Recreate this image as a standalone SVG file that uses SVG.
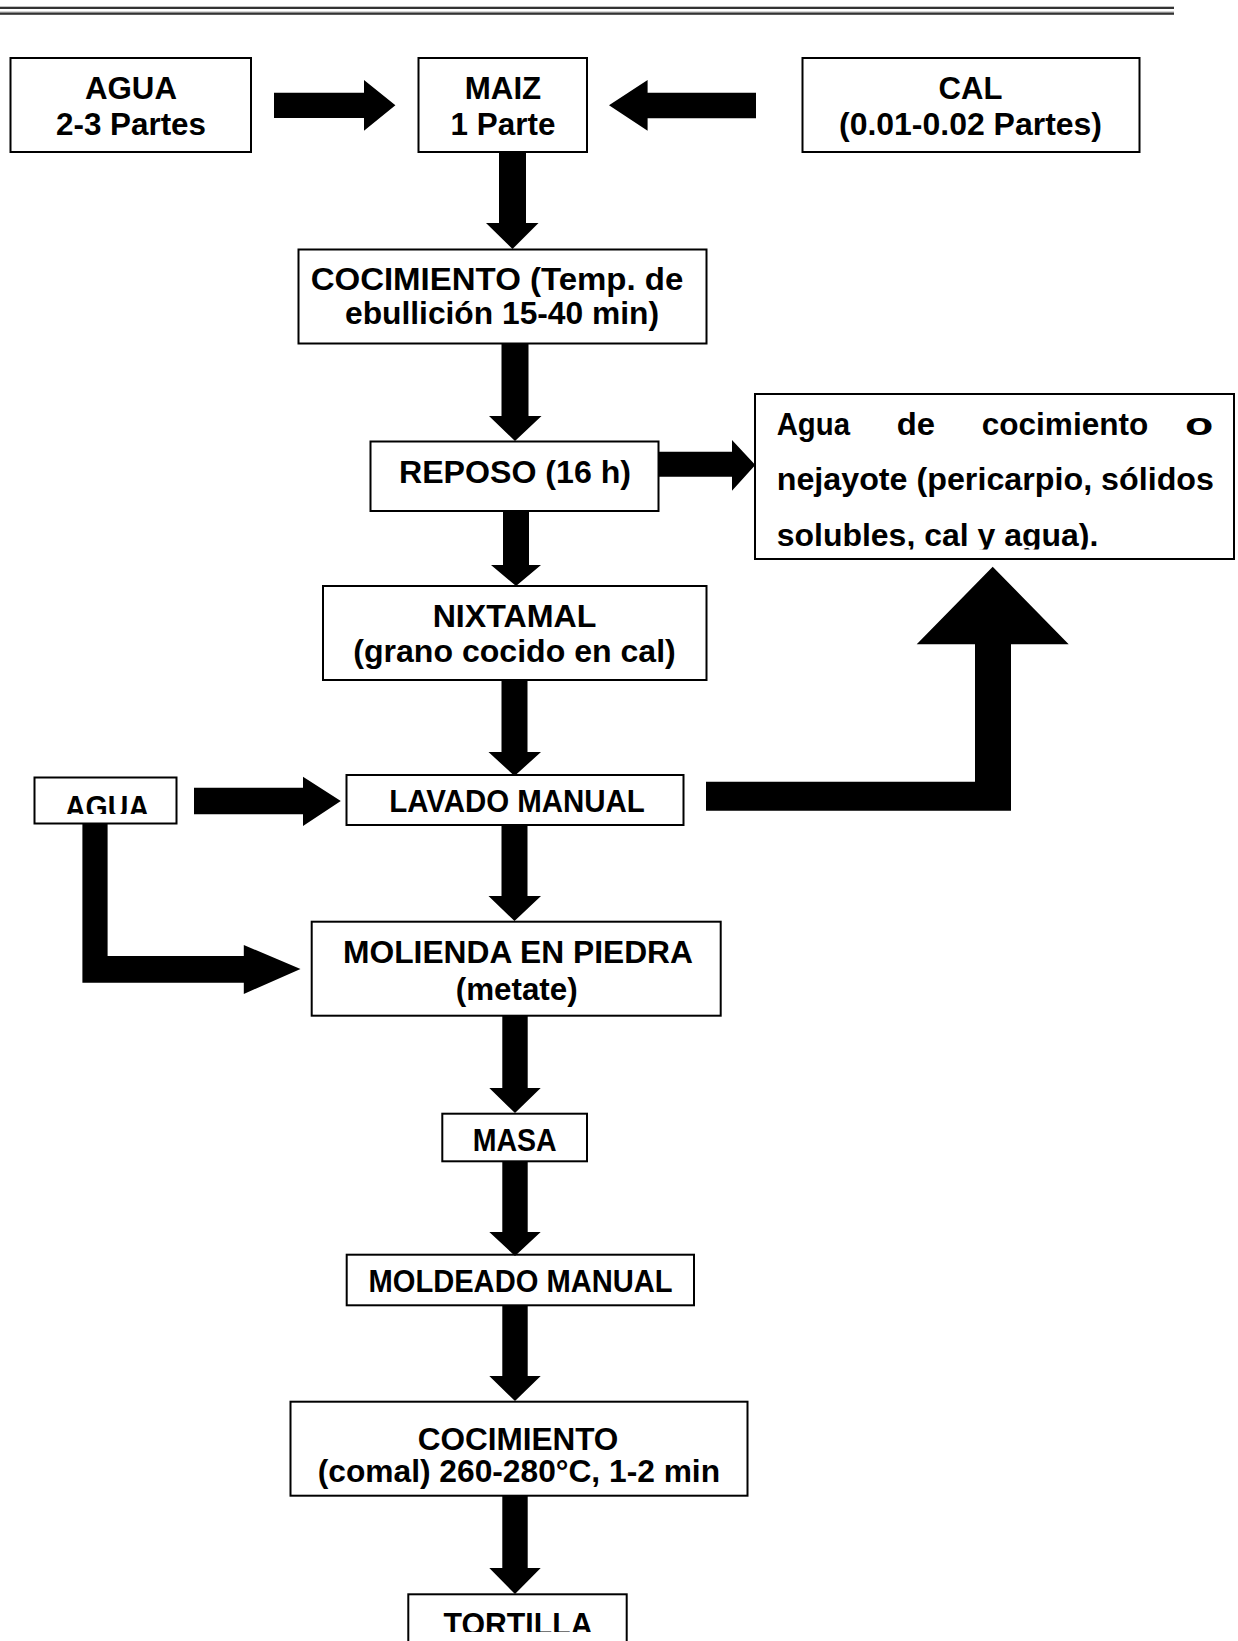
<svg xmlns="http://www.w3.org/2000/svg" width="1238" height="1641" viewBox="0 0 1238 1641">
<style>
.box{fill:#fff;stroke:#000;stroke-width:2}
.t{font-family:"Liberation Sans",Arial,sans-serif;font-weight:bold;font-size:31px;fill:#000}
.big{font-size:32px}
.m{text-anchor:middle}
.arrow{fill:#000;stroke:none}
</style>
<defs>
<clipPath id="clipAgua3"><rect x="0" y="770" width="300" height="44"/></clipPath>
<clipPath id="clipNej"><rect x="740" y="380" width="498" height="169.5"/></clipPath>
<clipPath id="clipTort"><rect x="400" y="1580" width="240" height="52"/></clipPath>
</defs>
<rect width="1238" height="1641" fill="#fff"/>
<g id="header">
<rect x="0" y="6.7" width="1174" height="2.3" fill="#333"/>
<rect x="0" y="11.6" width="1174" height="1" fill="#999"/>
<rect x="0" y="12.6" width="1174" height="2.2" fill="#333"/>
</g>
<g id="n-agua1">
<rect class="box" x="10.5" y="58" width="240.5" height="94"/>
<text class="t big m" x="131" y="99" textLength="92" lengthAdjust="spacingAndGlyphs">AGUA</text>
<text class="t big m" x="131" y="135" textLength="150" lengthAdjust="spacingAndGlyphs">2-3 Partes</text>
</g>
<g id="n-maiz">
<rect class="box" x="418.5" y="58" width="168.5" height="94"/>
<text class="t big m" x="503" y="99" textLength="76.4" lengthAdjust="spacingAndGlyphs">MAIZ</text>
<text class="t big m" x="503" y="135" textLength="104.8" lengthAdjust="spacingAndGlyphs">1 Parte</text>
</g>
<g id="n-cal">
<rect class="box" x="802.5" y="58" width="337" height="94"/>
<text class="t big m" x="970.5" y="99" textLength="63.8" lengthAdjust="spacingAndGlyphs">CAL</text>
<text class="t big m" x="970.5" y="135" textLength="263" lengthAdjust="spacingAndGlyphs">(0.01-0.02 Partes)</text>
</g>
<g id="n-cocimiento1">
<rect class="box" x="298.5" y="249.5" width="408" height="94"/>
<text class="t m" x="497" y="289.5" textLength="372.7" lengthAdjust="spacingAndGlyphs">COCIMIENTO (Temp. de</text>
<text class="t m" x="502" y="324" textLength="314" lengthAdjust="spacingAndGlyphs">ebullición 15-40 min)</text>
</g>
<g id="n-reposo">
<rect class="box" x="370.5" y="441.5" width="288" height="69.5"/>
<text class="t m" x="515" y="483" textLength="232" lengthAdjust="spacingAndGlyphs">REPOSO (16 h)</text>
</g>
<g id="n-nejayote">
<rect class="box" x="755" y="394" width="479" height="165"/>
<text class="t" x="776.7" y="435" textLength="73.3" lengthAdjust="spacingAndGlyphs">Agua</text>
<text class="t" x="896.7" y="435" textLength="38.3" lengthAdjust="spacingAndGlyphs">de</text>
<text class="t" x="981.7" y="435" textLength="166.6" lengthAdjust="spacingAndGlyphs">cocimiento</text>
<text class="t" x="1185" y="435" textLength="28.3" lengthAdjust="spacingAndGlyphs">o</text>
<text class="t" x="776.7" y="490" textLength="437.3" lengthAdjust="spacingAndGlyphs">nejayote (pericarpio, sólidos</text>
<text class="t" x="776.7" y="545.5" textLength="321.6" lengthAdjust="spacingAndGlyphs" clip-path="url(#clipNej)">solubles, cal y agua).</text>
</g>
<g id="n-nixtamal">
<rect class="box" x="323" y="586" width="383.5" height="94"/>
<text class="t m" x="514.5" y="627.3" textLength="163.7" lengthAdjust="spacingAndGlyphs">NIXTAMAL</text>
<text class="t m" x="514.5" y="662" textLength="322.5" lengthAdjust="spacingAndGlyphs">(grano cocido en cal)</text>
</g>
<g id="n-lavado">
<rect class="box" x="346.5" y="775" width="337" height="50"/>
<text class="t m" x="517" y="811.7" textLength="255.7" lengthAdjust="spacingAndGlyphs">LAVADO MANUAL</text>
</g>
<g id="n-agua2">
<rect class="box" x="34.5" y="777.5" width="142" height="46"/>
<text class="t m" x="107" y="818" textLength="84" lengthAdjust="spacingAndGlyphs" clip-path="url(#clipAgua3)">AGUA</text>
</g>
<g id="n-molienda">
<rect class="box" x="311.7" y="921.7" width="409" height="94"/>
<text class="t m" x="518" y="962.7" textLength="350" lengthAdjust="spacingAndGlyphs">MOLIENDA EN PIEDRA</text>
<text class="t m" x="516.7" y="1000" textLength="122" lengthAdjust="spacingAndGlyphs">(metate)</text>
</g>
<g id="n-masa">
<rect class="box" x="442.3" y="1113.7" width="144.7" height="47.6"/>
<text class="t m" x="514.7" y="1151" textLength="84" lengthAdjust="spacingAndGlyphs">MASA</text>
</g>
<g id="n-moldeado">
<rect class="box" x="346.7" y="1254.7" width="347.3" height="50.6"/>
<text class="t m" x="520.5" y="1292.3" textLength="304" lengthAdjust="spacingAndGlyphs">MOLDEADO MANUAL</text>
</g>
<g id="n-cocimiento2">
<rect class="box" x="290.5" y="1401.7" width="457" height="94"/>
<text class="t m" x="518" y="1450" textLength="200.7" lengthAdjust="spacingAndGlyphs">COCIMIENTO</text>
<text class="t m" x="518.9" y="1482.3" textLength="402.3" lengthAdjust="spacingAndGlyphs">(comal) 260-280°C, 1-2 min</text>
</g>
<g id="n-tortilla">
<rect class="box" x="408.3" y="1594.3" width="218.4" height="70"/>
<text class="t m" x="518" y="1635" textLength="149" lengthAdjust="spacingAndGlyphs" clip-path="url(#clipTort)">TORTILLA</text>
</g>
<g id="connectors" class="arrow">
<polygon points="274,92.7 364,92.7 364,80 395.4,105.3 364,130.7 364,118 274,118"/>
<polygon points="756,92.7 647.6,92.7 647.6,80 609,105.3 647.6,130.7 647.6,118.3 756,118.3"/>
<polygon points="499,152 526,152 526,223 538.5,223 512.5,249 486,223 499,223"/>
<polygon points="501.5,344 528.5,344 528.5,416 541.5,416 515,441 489,416 501.5,416"/>
<polygon points="503,511 529,511 529,565 541,565 516,586 491,565 503,565"/>
<polygon points="501.5,680 527.5,680 527.5,752 541,752 514.5,776 488.5,752 501.5,752"/>
<polygon points="501.5,825 527.5,825 527.5,896 541,896 514.5,921 488.5,896 501.5,896"/>
<polygon points="502.3,1016 527.7,1016 527.7,1088 540.7,1088 515,1113 489.3,1088 502.3,1088"/>
<polygon points="502.3,1161 527.7,1161 527.7,1232 540.7,1232 515,1256 489.3,1232 502.3,1232"/>
<polygon points="502.3,1305 527.7,1305 527.7,1376 540.7,1376 515,1401 489.3,1376 502.3,1376"/>
<polygon points="502.3,1496 527.7,1496 527.7,1568 540.7,1568 515,1594 489.3,1568 502.3,1568"/>
<polygon points="658.7,451.7 732,451.7 732,440 755.3,465 732,490.7 732,476.7 658.7,476.7"/>
<polygon points="194,787.7 303,787.7 303,776.7 340.8,801 303,826 303,814.3 194,814.3"/>
<polygon points="82.4,823.5 107.6,823.5 107.6,956 243.8,956 243.8,945 300.5,969 243.8,994 243.8,982.7 82.4,982.7"/>
<polygon points="706,781.7 975,781.7 975,644.3 916.7,644.3 992.7,566.7 1068.7,644.3 1011,644.3 1011,810.7 706,810.7"/>
</g>
</svg>
